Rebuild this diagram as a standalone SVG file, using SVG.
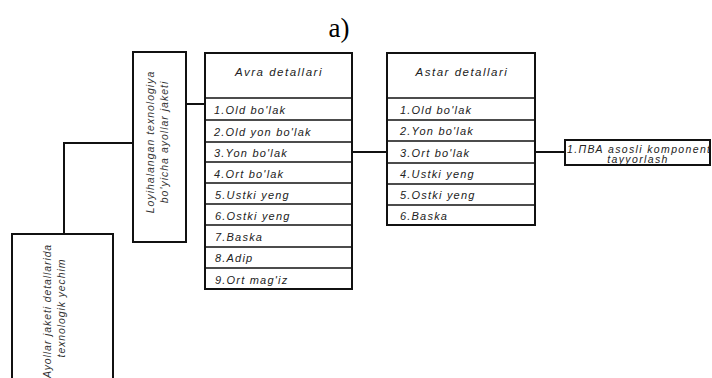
<svg xmlns="http://www.w3.org/2000/svg" width="712" height="378" viewBox="0 0 712 378">
<style>
.box{fill:#fff;stroke:#111;stroke-width:2}
.sep{stroke:#111;stroke-width:1.6}
.con{fill:none;stroke:#111;stroke-width:2}
.t{font-family:"Liberation Sans",Arial,sans-serif;font-style:italic;fill:#222;font-size:11px;letter-spacing:1.2px}
.h{font-family:"Liberation Sans",Arial,sans-serif;font-style:italic;fill:#222;font-size:11.5px;letter-spacing:1.5px;text-anchor:middle}
.v{font-family:"Liberation Sans",Arial,sans-serif;font-style:italic;fill:#333;font-size:10.5px;letter-spacing:0.9px;text-anchor:middle}
</style>
<rect width="712" height="378" fill="#fff"/>
<text x="339" y="37" font-family="Liberation Serif,'Times New Roman',serif" font-size="27" text-anchor="middle" fill="#000">a)</text>

<g id="connectors">
<polyline class="con" points="64,234 64,143 133,143"/>
<line class="con" x1="186" y1="104" x2="205" y2="104"/>
<line class="con" x1="352" y1="152" x2="387" y2="152"/>
<line class="con" x1="535" y1="152" x2="565" y2="152"/>
</g>

<g id="node-yechim">
<rect class="box" x="12" y="234" width="101" height="150"/>
<text class="v" transform="translate(51,311) rotate(-90)">Ayollar jaketi detallarida</text>
<text class="v" transform="translate(65,308) rotate(-90)">texnologik yechim</text>
</g>

<g id="node-loyiha">
<rect class="box" x="133" y="52" width="53" height="190"/>
<text class="v" style="font-size:10.5px;letter-spacing:1px" transform="translate(154,142) rotate(-90)">Loyihalangan texnologiya</text>
<text class="v" style="font-size:10.5px;letter-spacing:1px" transform="translate(168,142) rotate(-90)">bo'yicha ayollar jaketi</text>
</g>

<g id="node-avra">
<rect class="box" x="205" y="53" width="147" height="236"/>
<line class="sep" x1="205" y1="98" x2="352" y2="98"/>
<line class="sep" x1="205" y1="120" x2="352" y2="120"/>
<line class="sep" x1="205" y1="142" x2="352" y2="142"/>
<line class="sep" x1="205" y1="162" x2="352" y2="162"/>
<line class="sep" x1="205" y1="183" x2="352" y2="183"/>
<line class="sep" x1="205" y1="204" x2="352" y2="204"/>
<line class="sep" x1="205" y1="225" x2="352" y2="225"/>
<line class="sep" x1="205" y1="247" x2="352" y2="247"/>
<line class="sep" x1="205" y1="268" x2="352" y2="268"/>
<text class="h" x="279" y="76">Avra detallari</text>
<text class="t" x="214" y="114">1.Old bo'lak</text>
<text class="t" x="214" y="136">2.Old yon bo'lak</text>
<text class="t" x="214" y="157">3.Yon bo'lak</text>
<text class="t" x="214" y="178">4.Ort bo'lak</text>
<text class="t" x="215" y="199">5.Ustki yeng</text>
<text class="t" x="215" y="220">6.Ostki yeng</text>
<text class="t" x="215" y="241">7.Baska</text>
<text class="t" x="215" y="262">8.Adip</text>
<text class="t" x="215" y="284">9.Ort mag'iz</text>
</g>

<g id="node-astar">
<rect class="box" x="387" y="53" width="148" height="172"/>
<line class="sep" x1="387" y1="98" x2="535" y2="98"/>
<line class="sep" x1="387" y1="120" x2="535" y2="120"/>
<line class="sep" x1="387" y1="141" x2="535" y2="141"/>
<line class="sep" x1="387" y1="163" x2="535" y2="163"/>
<line class="sep" x1="387" y1="184" x2="535" y2="184"/>
<line class="sep" x1="387" y1="205" x2="535" y2="205"/>
<text class="h" x="462" y="76">Astar detallari</text>
<text class="t" x="400" y="114">1.Old bo'lak</text>
<text class="t" x="400" y="135">2.Yon bo'lak</text>
<text class="t" x="400" y="157">3.Ort bo'lak</text>
<text class="t" x="400" y="178">4.Ustki yeng</text>
<text class="t" x="400" y="199">5.Ostki yeng</text>
<text class="t" x="400" y="220">6.Baska</text>
</g>

<g id="node-pva">
<rect class="box" x="565" y="140" width="145" height="25"/>
<text class="t" x="567" y="152.5" style="font-size:10.5px;letter-spacing:1.35px">1.ПВА asosli komponent</text>
<text class="t" x="638" y="163" style="font-size:10.5px;letter-spacing:1.35px;text-anchor:middle">tayyorlash</text>
</g>
</svg>
